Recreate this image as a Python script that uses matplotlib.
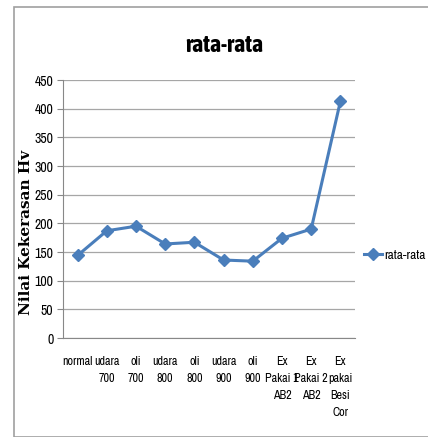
import matplotlib.pyplot as plt
from matplotlib import font_manager
from matplotlib.patches import Rectangle
from matplotlib.lines import Line2D

# data
kategori = ['normal', 'udara\n700', 'oli\n700', 'udara\n800', 'oli\n800',
            'udara\n900', 'oli\n900', 'Ex\nPakai 1\nAB2', 'Ex\nPakai 2\nAB2',
            'Ex\npakai\nBesi\nCor']
rata_rata = [144, 187, 195, 164, 167, 136, 134, 174, 190, 413]

# pilih font sempit yang tersedia
tersedia = set(f.name for f in font_manager.fontManager.ttflist)

def pilih(calon, cadangan='DejaVu Sans'):
    for nama in calon:
        if nama in tersedia:
            return nama
    return cadangan

narrow = pilih(['Archivo Narrow', 'PT Sans Narrow', 'Roboto Condensed', 'Liberation Sans Narrow'])
narrow_bold = pilih(['Asap Condensed', 'Barlow Semi Condensed', 'Roboto Condensed'])
serif = pilih(['DejaVu Serif', 'Liberation Serif'])

biru = '#4a7ebb'

fig = plt.figure(figsize=(4.28, 4.37), dpi=100)
fig.patches.append(Rectangle((14 / 428, 0), 1.0, 1 - 7 / 437, transform=fig.transFigure,
                             fill=False, edgecolor='#a0a0a0', lw=1.2))
ax = fig.add_axes([63 / 428, 1 - 338 / 437, 292 / 428, 258 / 437])

x = range(len(kategori))
ax.plot(x, rata_rata, color=biru, lw=2.2, marker='D', markersize=6.5, label='rata-rata')

ax.set_xlim(-0.5, len(kategori) - 0.5)
ax.set_ylim(0, 450)
ax.set_yticks(range(0, 451, 50))
ax.yaxis.grid(True, color='#a6a6a6', lw=0.9)
ax.set_axisbelow(True)
ax.set_xticks(list(x))
ax.set_xticklabels(kategori, family=narrow, fontsize=8.7, va='top', linespacing=1.65)
for t in ax.get_yticklabels():
    t.set_family(narrow)
    t.set_fontsize(10)
ax.tick_params(axis='y', length=4, color='#888888', pad=3)
ax.tick_params(axis='x', length=0, pad=13)
for s in ['top', 'right']:
    ax.spines[s].set_visible(False)
ax.spines['left'].set_color('#888888')
ax.spines['bottom'].set_color('#888888')

ax.set_ylabel('Nilai Kekerasan Hv', family=serif, fontweight='bold', fontsize=11)
ax.yaxis.set_label_coords((33 - 63) / 292, (338 - 232) / 258)
fig.text(224 / 428, 1 - 45 / 437, 'rata-rata', family=narrow_bold, fontsize=17,
         fontweight='bold', ha='center', va='center')

h = Line2D([], [], color=biru, lw=2.2, marker='D', markersize=6)
fig.legend([h], ['rata-rata'], loc='center left', bbox_to_anchor=(364 / 428, 1 - 255 / 437),
           frameon=False, prop={'family': narrow, 'size': 9.5}, handlelength=1.4,
           handletextpad=0.1, borderaxespad=0, borderpad=0)

fig.savefig('out.png', dpi=100)
